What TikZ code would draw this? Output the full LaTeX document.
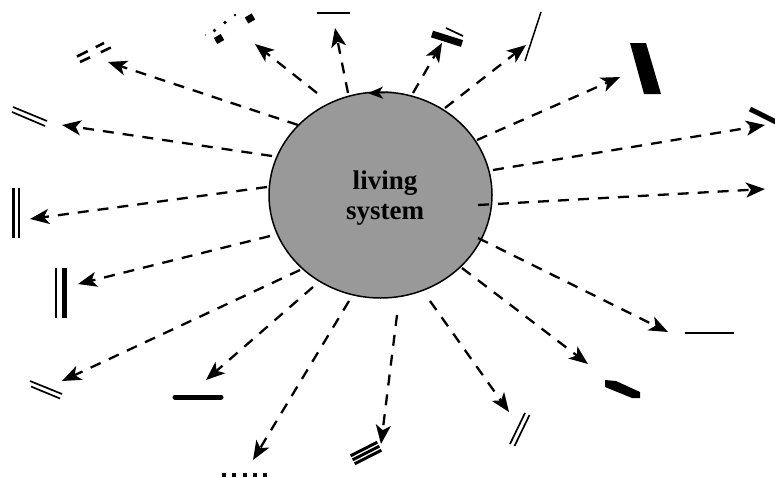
\documentclass[tikz,border=0pt]{standalone}
\usepackage{fontspec}
\setmainfont{Liberation Serif}
\usetikzlibrary{arrows.meta,shapes.geometric}
\definecolor{cellgray}{RGB}{153,153,153}
\tikzset{
  flow/.style={line width=2.3pt, dash pattern=on 11pt off 9pt,
    -{Stealth[length=19pt,width=15pt,inset=5pt]}},
  thinbar/.style={line width=1.7pt},
  midbar/.style={line width=2.6pt},
  heavybar/.style={line width=5pt},
  blob/.style={fill=black, draw=none},
}
\begin{document}
\begin{tikzpicture}[x=1pt,y=-1pt]
\useasboundingbox (0,0) rectangle (775,477);

% the system itself
\node[ellipse, draw, line width=1.5pt, fill=cellgray,
      minimum width=223pt, minimum height=206pt, inner sep=0pt] (sys) at (380.5,195) {};
\node[font=\bfseries\fontsize{27}{30}\selectfont, align=center, inner sep=0pt]
  (lbl) at (385,198) {living\\system};
% arrowhead riding on the boundary
\coordinate (rimA) at (392,92.4);
\coordinate (rimB) at (368,93.2);
\draw[line width=1.2pt, -{Stealth[length=15pt,width=12pt,inset=4pt]}] (rimA) -- (rimB);

% start and end points of the outgoing flows
\foreach \n/\sx/\sy/\tx/\ty in {
  1/298/125/108/62,   2/272/156/62/125,   3/267/187/30/219,
  4/270/236/78/284,   5/300/270/62/381,   6/313/287/206/380,
  7/349/301/253/460,  8/397/315/381/444,  9/430/301/509/412,
  10/462/268/588/364, 11/478/238/668/332, 12/478/205/765/189,
  13/493/170/765/125, 14/477/140/620/77,  15/445/108/526/45,
  16/413/93/442/43,   17/348/93/335/28,   18/317/93/255/44}{
  \coordinate (s\n) at (\sx,\sy);
  \coordinate (t\n) at (\tx,\ty);
  \draw[flow] (s\n) -- (t\n);
}

% ---- products at the ends of the flows ----
% 1: broken double stroke
\draw[midbar, dash pattern=on 12pt off 9pt] (77,56.5) -- (104,43);
\draw[midbar, dash pattern=on 11pt off 12pt] (80,62) -- (112,47);
% 2: thin double stroke
\draw[thinbar] (13,107) -- (47,121);
\draw[thinbar] (12,112) -- (45,126);
% 3: upright double stroke
\draw[midbar] (13.5,188) -- (13.5,238);
\draw[thinbar] (19,188) -- (19,238);
% 4: upright stroke pair, one heavy
\draw[midbar] (56,268) -- (56,318);
\draw[heavybar] (64.5,268) -- (64.5,318);
% 5: thin double stroke
\draw[thinbar] (30,381) -- (62,394);
\draw[thinbar] (31,386.5) -- (60,398.5);
% 6: heavy bar
\draw[heavybar, line cap=round] (175,397) -- (221,397);
% 7: row of dots
\foreach \i in {0,...,4}
  \fill (222+10.3*\i,473) rectangle +(4,4);
% 8: striped block
\begin{scope}[shift={(366,453)}, rotate=27]
  \foreach \o in {-4.5,0,4.5}
    \draw[line width=3pt] (-15,\o) -- (15,\o);
\end{scope}
% 9: thin double stroke
\draw[thinbar] (510,444) -- (525,413);
\draw[thinbar] (514.5,446) -- (529.5,415);
% 10: heavy slanted bar
\fill[blob] (605,380) -- (616,381) -- (640,392) -- (640,398) -- (632,398) -- (605,387) -- cycle;
% 11: thin rule
\draw[line width=2pt] (685,333) -- (734,333);
% 13: heavy bar at the edge
\draw[heavybar] (750,109) -- (778,123);
% 14: slanted slab
\fill[blob] (630,43) -- (646,43) -- (661,94) -- (644,94) -- cycle;
% 15: thin slash
\draw[line width=1.5pt] (525,61) -- (541,12);
% 16: heavy bar with thin companion
\draw[line width=7pt] (432,34) -- (462,43.5);
\draw[thinbar] (446,28) -- (463,36);
% 17: thin rule
\draw[line width=1.6pt] (317,13) -- (350,13);
% 18: scattered fragments
\fill[blob, rotate around={30:(219,39)}] (215,35.5) rectangle (223,42.5);
\fill[blob, rotate around={30:(250,18.5)}] (246,15) rectangle (254,22);
\fill (225,22.5) circle (1.8pt);
\fill (235,15) circle (1.4pt);
\fill (214.5,30.5) circle (1.8pt);
\fill (205.5,35) circle (0.7pt);
\end{tikzpicture}
\end{document}
